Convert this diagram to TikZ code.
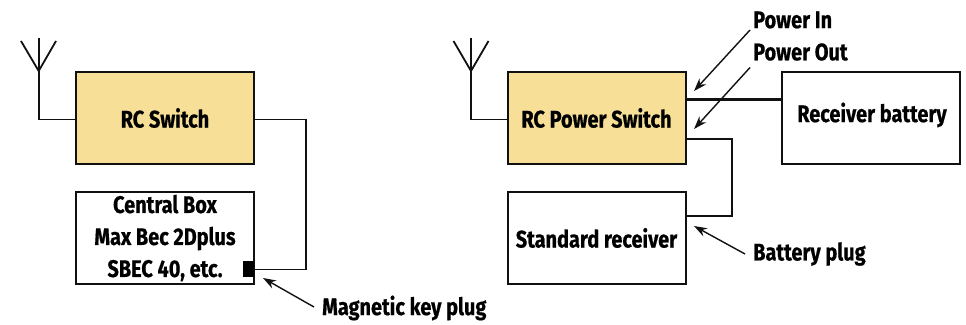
\documentclass[tikz,border=0pt]{standalone}
\usepackage{fontspec}
\setmainfont[FakeStretch=0.83,FakeBold=0.6]{Fira Sans Bold}
\usetikzlibrary{arrows.meta}
\definecolor{swfill}{HTML}{F7DF97}
\definecolor{ink}{HTML}{111111}
\tikzset{
  x=1pt,y=-1pt,
  wire/.style={draw=ink,line width=1.8pt,line join=miter},
  power/.style={draw=ink,line width=3pt},
  pointer/.style={draw=ink,line width=1.4pt,-{Stealth[length=13pt,width=9pt]}},
  blockbox/.style={draw=ink,line width=2pt,fill=white,minimum width=178pt,minimum height=92pt,inner sep=0pt,align=center,font=\fontsize{24}{32}\selectfont,text=black},
  switchbox/.style={blockbox,fill=swfill},
  caption/.style={anchor=west,inner sep=0pt,font=\fontsize{24}{26}\selectfont,text=black},
}
\begin{document}
\begin{tikzpicture}
\useasboundingbox (0,0) rectangle (966,324);
% left part
\node[switchbox] (rc) at (165,118) {RC Switch};
\node[blockbox] (cb) at (165,238) {Central Box\\Max Bec 2Dplus\\SBEC 40, etc.};
\node[draw=none,fill=black,minimum width=11pt,minimum height=16pt,inner sep=0pt] (key) at (248.5,269) {};
\coordinate (la) at (38.7,71);
\coordinate (lat) at (38.7,38);
\coordinate (lal) at (21,41);
\coordinate (lar) at (56,41);
\coordinate (lac) at (38.7,119.5);
\draw[wire] (lal) -- (la) -- (lar);
\draw[wire] (lat) -- (lac) -- (lac -| rc.west);
\coordinate (lw1) at (306,119.5);
\coordinate (lw2) at (306,269.5);
\draw[wire] (lw1 -| rc.east) -- (lw1) -- (lw2) -- (lw2 -| key.east);
\node[caption] (mk) at (322,308) {Magnetic key plug};
\coordinate (mks) at (314,307);
\coordinate (mke) at (263,278);
\draw[pointer] (mks) -- (mke);
% right part
\node[switchbox] (ps) at (596.5,118) {RC Power Switch};
\node[blockbox] (sr) at (596.5,238) {Standard receiver};
\node[blockbox] (rb) at (870.5,118) {};
\node[inner sep=0pt,font=\fontsize{24}{26}\selectfont,text=black] (rbt) at (872,115) {Receiver battery};
\coordinate (ra) at (471,71);
\coordinate (rat) at (471,38);
\coordinate (ral) at (453.5,41);
\coordinate (rar) at (488.5,41);
\coordinate (rac) at (471,119.5);
\draw[wire] (ral) -- (ra) -- (rar);
\draw[wire] (rat) -- (rac) -- (rac -| ps.west);
\coordinate (pw) at (700,99);
\draw[power] (pw -| ps.east) -- (pw -| rb.west);
\coordinate (rw1) at (732,139);
\coordinate (rw2) at (732,216);
\draw[wire] (rw1 -| ps.east) -- (rw1) -- (rw2) -- (rw2 -| sr.east);
\node[caption] (pin) at (753,20) {Power In};
\node[caption] (pout) at (753,52) {Power Out};
\node[caption] (bp) at (753,254) {Battery plug};
\coordinate (pins) at (750,30);
\coordinate (pine) at (694,91);
\coordinate (pouts) at (750,67.5);
\coordinate (poute) at (694,129);
\coordinate (bps) at (745,254);
\coordinate (bpe) at (694,226);
\draw[pointer] (pins) -- (pine);
\draw[pointer] (pouts) -- (poute);
\draw[pointer] (bps) -- (bpe);
\end{tikzpicture}
\end{document}
